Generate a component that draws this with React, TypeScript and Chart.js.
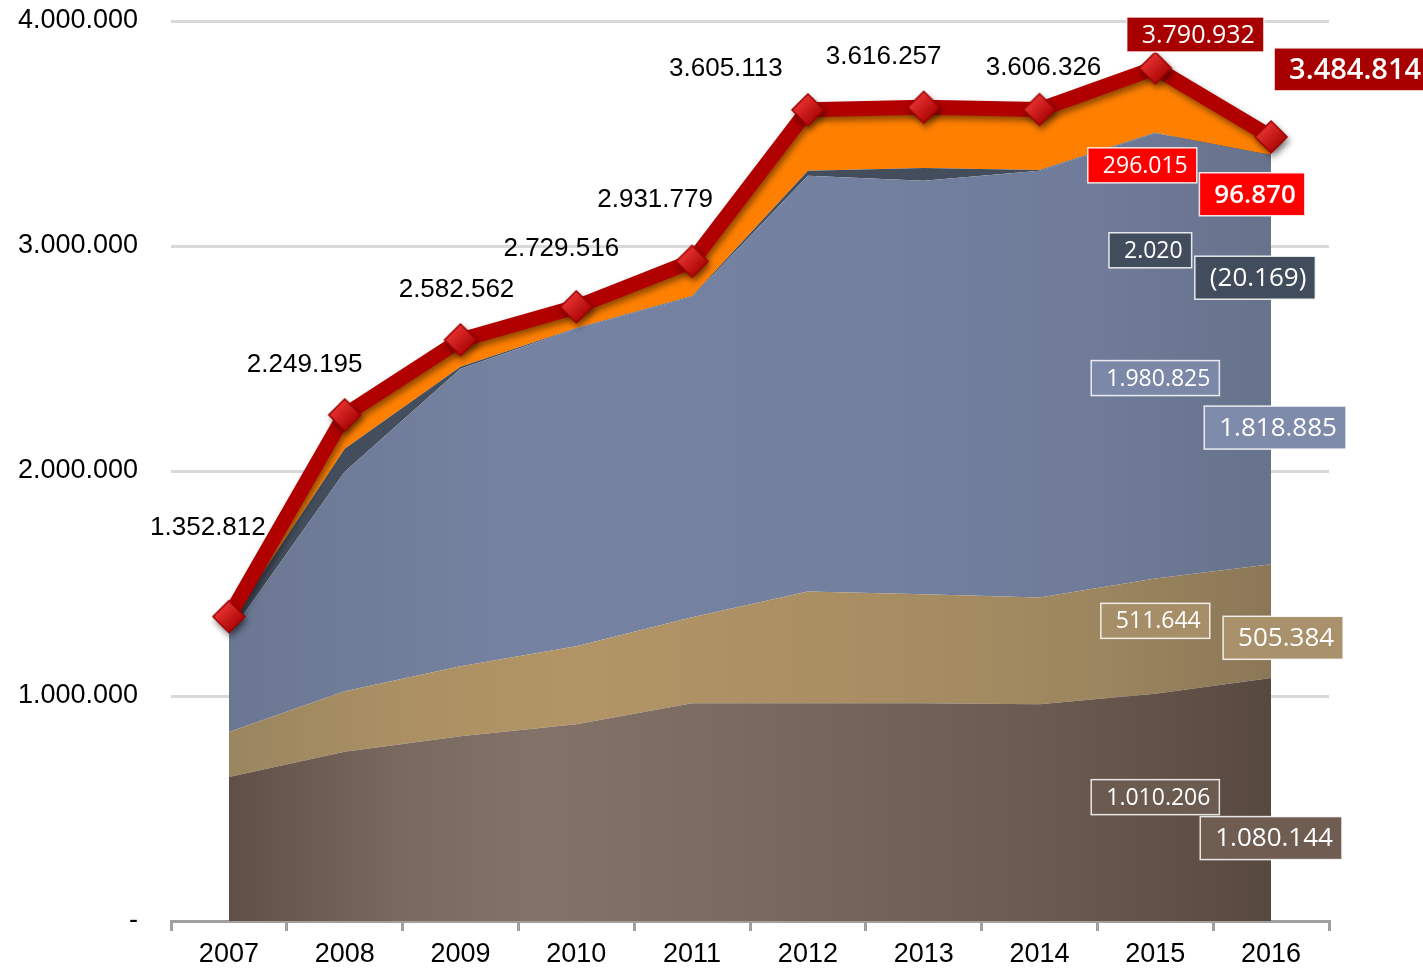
import React, { useEffect, useRef } from 'react';
import { Chart, registerables } from 'chart.js';

Chart.register(...registerables);

// ---------- data ----------
const categories = ['2007', '2008', '2009', '2010', '2011', '2012', '2013', '2014', '2015', '2016'];
const brownValues = [640000, 752000, 821000, 875000, 968000, 968000, 968000, 963000, 1010206, 1080144];
const tanValues = [200000, 269000, 311000, 346000, 382000, 497000, 484000, 475000, 511644, 505384];
const blueValues = [430000, 976000, 1323000, 1412000, 1425000, 1847000, 1838000, 1896000, 1980825, 1818885];
const darkValues = [50000, 102000, 8000, 3000, 3000, 22000, 57000, 4000, 2020, -20169];
const orangeValues = [33000, 150000, 120000, 94000, 154000, 271000, 269000, 268000, 296015, 96870];
const totalValues = [1352812, 2249195, 2582562, 2729516, 2931779, 3605113, 3616257, 3606326, 3790932, 3484814];
const yTicks = [0, 1000000, 2000000, 3000000, 4000000];

// ---------- helpers ----------
const fmt = (v: number) => {
  const s = Math.round(Math.abs(v)).toString().replace(/\B(?=(\d{3})+(?!\d))/g, '.');
  return v < 0 ? `(${s})` : s;
};

const hGrad = (stops: [number, string][]) => (c: any) => {
  const chart = c.chart;
  const a = chart.chartArea;
  if (!a) return stops[0][1];
  const g = chart.ctx.createLinearGradient(a.left, 0, a.right, 0);
  stops.forEach(([p, col]) => g.addColorStop(p, col));
  return g;
};

const makeDiamond = () => {
  const c = document.createElement('canvas');
  const s = 36;
  c.width = s;
  c.height = s;
  const g = c.getContext('2d')!;
  const m = s / 2;
  const r = 16;
  g.beginPath();
  g.moveTo(m, m - r);
  g.lineTo(m + r, m);
  g.lineTo(m, m + r);
  g.lineTo(m - r, m);
  g.closePath();
  const gr = g.createLinearGradient(m - r / 2, m - r / 2, m + r / 2, m + r / 2);
  gr.addColorStop(0, '#e3302f');
  gr.addColorStop(1, '#b00808');
  g.fillStyle = gr;
  g.fill();
  g.lineWidth = 1.5;
  g.strokeStyle = '#9e0000';
  g.stroke();
  return c;
};

// label layout (pixel offsets for text placement)
const plainOffsets: [number, number][] = [
  [-21, -89], [-40, -50], [-4, -50], [-15, -58], [-37, -62], [-82, -41], [-40, -51], [4, -42],
];

const boxLayers = [
  { values: totalValues, fill: ['#a80000', '#a80000'] },
  { values: orangeValues, fill: ['#ff0000', '#ff0000'] },
  { values: darkValues, fill: ['#414c5c', '#414c5c'] },
  { values: blueValues, fill: ['#7b88a7', '#7e8baa'] },
  { values: tanValues, fill: ['#a68e68', '#a8916b'] },
  { values: brownValues, fill: ['#6b5a4f', '#6f5d52'] },
];
const boxAnchors = [
  [3940000, 3358500, 2981000, 2413000, 1334000, 550500],
  [3785000, 3230000, 2859000, 2193000, 1258600, 368500],
];
const boxDx = [
  [40, -13, -5, 0, 0, 0],
  [81, -19, -16, 4, 12, 0],
];

const shadowPlugin = {
  id: 'lineShadow',
  beforeDatasetDraw(chart: any, args: any) {
    if (args.index !== 5) return;
    const ctx = chart.ctx;
    ctx.save();
    ctx.shadowColor = 'rgba(0,0,0,0.45)';
    ctx.shadowBlur = 6;
    ctx.shadowOffsetX = 2;
    ctx.shadowOffsetY = 4;
  },
  afterDatasetDraw(chart: any, args: any) {
    if (args.index !== 5) return;
    chart.ctx.restore();
  },
};

const labelPlugin = {
  id: 'valueLabels',
  afterDatasetsDraw(chart: any) {
    const ctx = chart.ctx;
    const xs = chart.scales.x;
    const ys = chart.scales.y;
    const meta = chart.getDatasetMeta(5);
    ctx.save();
    ctx.textAlign = 'center';
    ctx.textBaseline = 'middle';
    ctx.font = '26px "Liberation Sans", Arial, sans-serif';
    ctx.fillStyle = '#000';
    plainOffsets.forEach(([dx, dy], i) => {
      const p = meta.data[i];
      ctx.fillText(fmt(totalValues[i]), p.x + dx, p.y + dy);
    });
    [8, 9].forEach((idx, k) => {
      boxLayers.forEach((layer, j) => {
        const isTotal = j === 0;
        const size = k === 0 ? (isTotal ? 25 : 23) : isTotal ? 29 : 26;
        const weight = k === 1 && j <= 1 ? 600 : 400;
        const h = k === 0 ? 35 : 43;
        const x = xs.getPixelForValue(idx) + boxDx[k][j];
        const y = ys.getPixelForValue(boxAnchors[k][j]);
        ctx.font = `${weight} ${size}px "Open Sans", "Noto Sans", sans-serif`;
        const t = fmt(layer.values[idx]);
        const w = ctx.measureText(t).width + 24;
        ctx.fillStyle = layer.fill[k];
        ctx.fillRect(x - w / 2, y - h / 2, w, h);
        ctx.strokeStyle = 'rgba(255,255,255,0.85)';
        ctx.lineWidth = 1.5;
        ctx.strokeRect(x - w / 2, y - h / 2, w, h);
        ctx.fillStyle = '#fff';
        ctx.fillText(t, x + 3, y + 1);
      });
    });
    ctx.restore();
  },
};

export default function App() {
  const ref = useRef<HTMLCanvasElement | null>(null);

  useEffect(() => {
    document.body.style.margin = '0';
    const canvas = ref.current;
    if (!canvas) return;
    const diamond = makeDiamond();
    const area = (label: string, data: number[], bg: any, fill: any) => ({
      label,
      data,
      backgroundColor: bg,
      borderWidth: 0,
      pointRadius: 0,
      fill,
      stack: 'areas',
      order: 0,
      tension: 0,
    });
    const chart = new Chart(canvas, {
      type: 'line',
      data: {
        labels: categories,
        datasets: [
          area(
            'brown',
            brownValues,
            hGrad([[0.05, '#5f4f46'], [0.2, '#7a695f'], [0.32, '#837267'], [0.5, '#7a695e'], [0.75, '#6b5a50'], [0.95, '#584940']]),
            'origin'
          ),
          area(
            'tan',
            tanValues,
            hGrad([[0.05, '#9a8560'], [0.2, '#ab9063'], [0.35, '#b29566'], [0.6, '#a98e63'], [0.8, '#9c865f'], [0.95, '#8b7757']]),
            '-1'
          ),
          area(
            'blue',
            blueValues,
            hGrad([[0.05, '#6b7792'], [0.3, '#7582a1'], [0.6, '#7380a0'], [0.8, '#6f7b98'], [0.95, '#67728c']]),
            '-1'
          ),
          area('dark', darkValues, '#434d5b', '-1'),
          area('orange', orangeValues, '#ff8000', '-1'),
          {
            label: 'total',
            data: totalValues,
            borderColor: '#b00000',
            borderWidth: 15,
            borderJoinStyle: 'round',
            borderCapStyle: 'round',
            pointStyle: diamond,
            pointRadius: 16,
            pointHoverRadius: 16,
            fill: false,
            stack: 'total',
            order: -1,
            tension: 0,
            clip: false,
          } as any,
        ],
      },
      options: {
        animation: false,
        responsive: false,
        events: [],
        layout: { padding: { top: 20, right: 94, left: 0, bottom: 0 } },
        plugins: { legend: { display: false }, tooltip: { enabled: false } },
        scales: {
          x: {
            offset: true,
            grid: {
              offset: true,
              drawOnChartArea: false,
              drawTicks: true,
              tickLength: 10,
              color: '#a0a0a0',
              lineWidth: 3,
            },
            border: { display: true, color: '#a0a0a0', width: 3 },
            ticks: {
              font: { family: '"Liberation Sans", Arial, sans-serif', size: 27 },
              color: '#000',
              padding: 7,
              maxRotation: 0,
            },
            afterFit: (s: any) => {
              s.height = 49;
            },
          },
          y: {
            stacked: 'single',
            min: 0,
            max: 4000000,
            afterBuildTicks: (s: any) => {
              s.ticks = yTicks.map((v) => ({ value: v }));
            },
            grid: {
              color: '#d9d9d9',
              lineWidth: 3,
              drawTicks: true,
              tickLength: 33,
              tickColor: 'rgba(0,0,0,0)',
            },
            border: { display: false },
            ticks: {
              font: { family: '"Liberation Sans", Arial, sans-serif', size: 27 },
              color: '#000',
              padding: 0,
              callback: (v: any) => (Number(v) === 0 ? '-' : fmt(Number(v))),
            },
            afterFit: (s: any) => {
              s.width = 171;
            },
          },
        } as any,
      },
      plugins: [shadowPlugin, labelPlugin],
    });
    return () => chart.destroy();
  }, []);

  return (
    <div style={{ width: 1423, height: 970, overflow: 'hidden' }}>
      <canvas ref={ref} width={1423} height={980} style={{ display: 'block', marginTop: -10 }} />
    </div>
  );
}
